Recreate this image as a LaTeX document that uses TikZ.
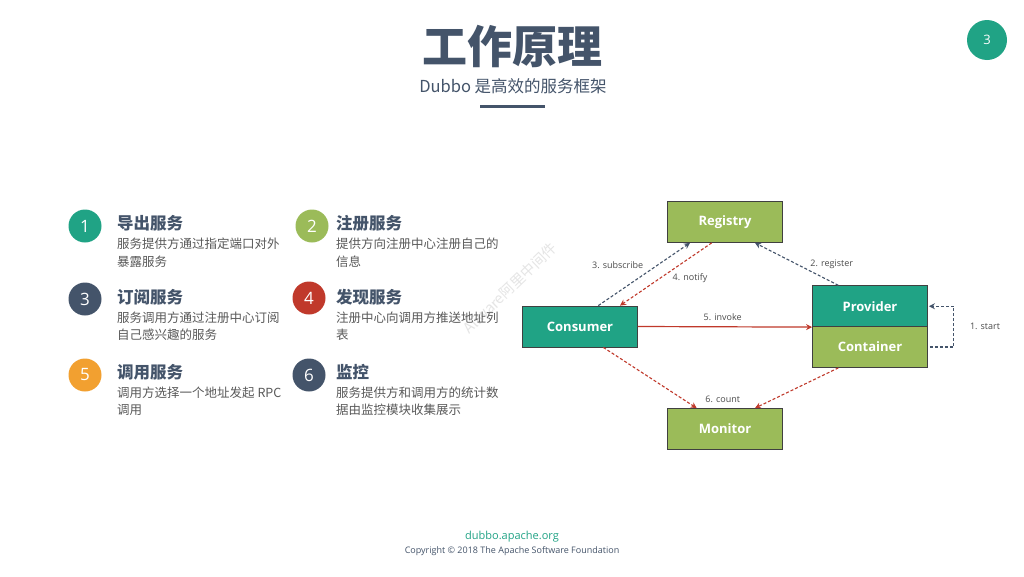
\documentclass[tikz,border=0pt]{standalone}
\usepackage{fontspec}
\setmainfont{Open Sans}
\newfontfamily\cjk{Noto Sans CJK SC}
\usetikzlibrary{arrows.meta}
\definecolor{teal1}{HTML}{20A385}
\definecolor{olive1}{HTML}{9BBB59}
\definecolor{slate}{HTML}{44546A}
\definecolor{red1}{HTML}{C0392B}
\definecolor{orange1}{HTML}{F2A030}
\definecolor{txtgray}{HTML}{595959}
\begin{document}
\begin{tikzpicture}[x=1pt,y=-1pt,
 box/.style={draw=black!75, line width=0.8pt, minimum width=115pt, minimum height=41pt, inner sep=0pt, text=white, font=\bfseries\fontsize{13}{15}\selectfont},
 gbox/.style={box, fill=olive1},
 tbox/.style={box, fill=teal1},
 num/.style={circle, minimum size=33pt, inner sep=0pt, text=white, font=\fontsize{17}{20}\selectfont},
 ttl/.style={anchor=west, inner sep=0pt, text=slate, font=\cjk\bfseries\fontsize{16.5}{20}\selectfont},
 dsc/.style={anchor=west, inner sep=0pt, text=txtgray, font=\cjk\fontsize{12.5}{15}\selectfont},
 lbl/.style={inner sep=0pt, text=black!70, font=\fontsize{9}{11}\selectfont},
 dk/.style={draw=slate, line width=1.1pt, dash pattern=on 3pt off 2pt, -{Stealth[length=6pt,width=6pt]}},
 rd/.style={draw=red1, line width=1.1pt, dash pattern=on 3pt off 2pt, -{Stealth[length=6pt,width=6pt]}},
 rds/.style={draw=red1, line width=1.2pt, -{Stealth[length=6pt,width=6pt]}}
]
\useasboundingbox[fill=white] (0,0) rectangle (1024,576);

% header
\node[text=slate, font=\cjk\bfseries\fontsize{45}{50}\selectfont, inner sep=0pt] (title) at (512,46) {工作原理};
\node[text=slate, font=\cjk\fontsize{16.5}{20}\selectfont, inner sep=0pt] (sub) at (513,86.5) {Dubbo 是高效的服务框架};
\fill[slate] (480,104.5) rectangle (545,107.5);
\node[circle, fill=teal1, minimum size=40pt, inner sep=0pt, text=white, font=\fontsize{13}{15}\selectfont] (page) at (987,40) {3};

% watermark
\node[rotate=44, text=black!10, font=\cjk\fontsize{14.5}{16}\selectfont, inner sep=0pt] (wm) at (510,288) {Aliware阿里中间件};

% list
\node[num, fill=teal1] (n1) at (85,226) {1};
\node[ttl] (t1) at (117,223) {导出服务};
\node[dsc] (d1a) at (117,244) {服务提供方通过指定端口对外};
\node[dsc] (d1b) at (117,261.5) {暴露服务};

\node[num, fill=olive1] (n2) at (312,226) {2};
\node[ttl] (t2) at (336,223) {注册服务};
\node[dsc] (d2a) at (336,244) {提供方向注册中心注册自己的};
\node[dsc] (d2b) at (336,261.5) {信息};

\node[num, fill=slate] (n3) at (85,299) {3};
\node[ttl] (t3) at (117,297.5) {订阅服务};
\node[dsc] (d3a) at (117,318) {服务调用方通过注册中心订阅};
\node[dsc] (d3b) at (117,335) {自己感兴趣的服务};

\node[num, fill=red1] (n4) at (309,298) {4};
\node[ttl] (t4) at (336,297.5) {发现服务};
\node[dsc] (d4a) at (336,318) {注册中心向调用方推送地址列};
\node[dsc] (d4b) at (336,335) {表};

\node[num, fill=orange1] (n5) at (85,375) {5};
\node[ttl] (t5) at (117,372) {调用服务};
\node[dsc] (d5a) at (117,393) {调用方选择一个地址发起 RPC};
\node[dsc] (d5b) at (117,410) {调用};

\node[num, fill=slate] (n6) at (309,375) {6};
\node[ttl] (t6) at (336,372) {监控};
\node[dsc] (d6a) at (336,393) {服务提供方和调用方的统计数};
\node[dsc] (d6b) at (336,410) {据由监控模块收集展示};

% diagram
\node[gbox] (reg) at (725,222) {Registry};
\node[tbox] (cons) at (580,326.5) {Consumer};
\node[tbox] (prov) at (870,306.2) {Provider};
\node[gbox] (cont) at (870,347) {Container};
\node[gbox] (mon) at (725,429) {Monitor};

\draw[dk] ([xshift=18.3pt]cons.north) -- ([xshift=-35pt]reg.south);
\draw[rd] ([xshift=-13.3pt]reg.south) -- ([xshift=40pt]cons.north);
\draw[dk] ([xshift=-31.7pt]prov.north) -- ([xshift=30pt]reg.south);
\draw[dk] ([xshift=2pt]cont.east) -- ++(24,0) |- ([xshift=1pt]prov.east);
\draw[rds] (cons.east) -- (prov.south west);
\draw[rd] ([xshift=23.3pt]cons.south) -- ([xshift=-28.3pt]mon.north);
\draw[rd] ([xshift=-31.7pt]cont.south) -- ([xshift=30pt]mon.north);

\node[lbl] (l3) at (617.7,264.7) {3. subscribe};
\node[lbl] (l4) at (690,277.7) {4. notify};
\node[lbl] (l2) at (831.7,264.7) {2. register};
\node[lbl] (l1) at (985,326.7) {1. start};
\node[lbl] (l5) at (722.7,316.7) {5. invoke};
\node[lbl] (l6) at (722.7,399) {6. count};

% footer
\node[text=teal1, font=\fontsize{11}{13}\selectfont, inner sep=0pt] (url) at (512,537) {dubbo.apache.org};
\node[text=slate, font=\fontsize{9}{11}\selectfont, inner sep=0pt] (copy) at (512,551) {Copyright © 2018 The Apache Software Foundation};
\end{tikzpicture}
\end{document}
